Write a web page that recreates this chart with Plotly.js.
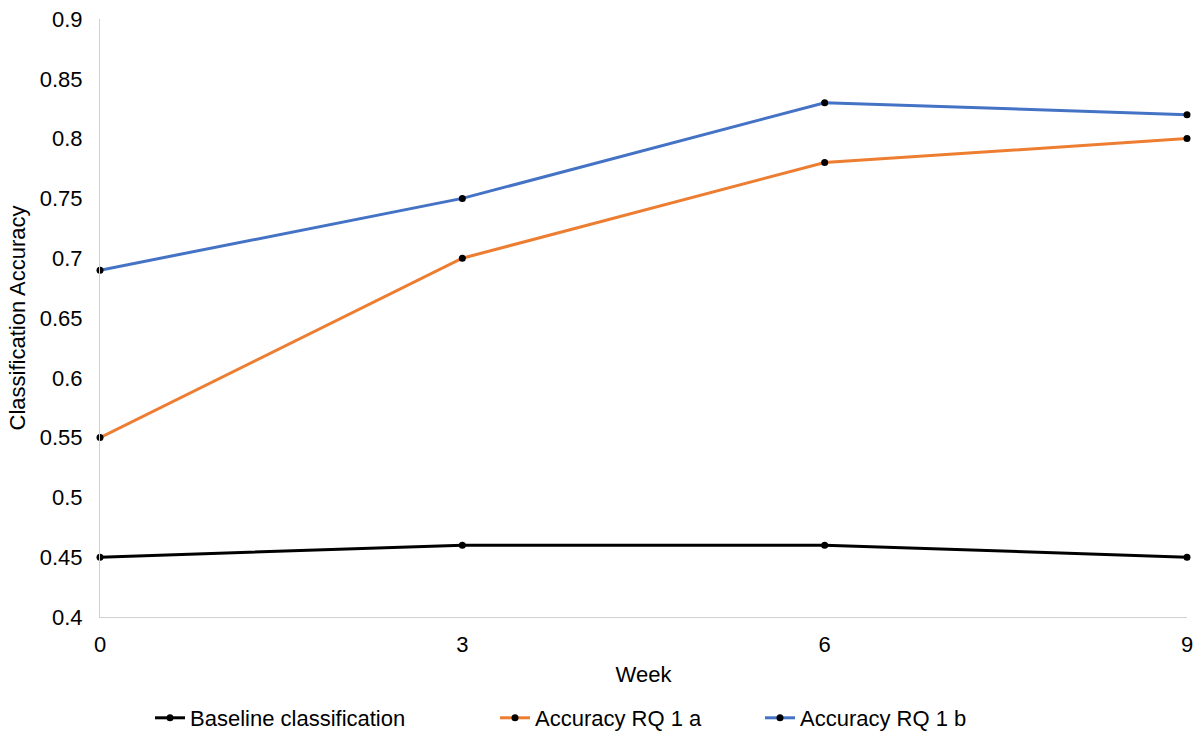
<!DOCTYPE html>
<html>
<head>
<meta charset="utf-8">
<script src="https://cdn.plot.ly/plotly-3.0.1.min.js"></script>
<style>html,body{margin:0;padding:0;background:#fff;}#chart{width:1201px;height:733px;}</style>
</head>
<body>
<div id="chart"></div>
<script>
const weeks = [0, 3, 6, 9];
const baseline = [0.45, 0.46, 0.46, 0.45];
const rq1a = [0.55, 0.70, 0.78, 0.80];
const rq1b = [0.69, 0.75, 0.83, 0.82];
const seriesNames = ["Baseline classification", "Accuracy RQ 1 a", "Accuracy RQ 1 b"];
const yTickVals = [0.4, 0.45, 0.5, 0.55, 0.6, 0.65, 0.7, 0.75, 0.8, 0.85, 0.9];
const yTickText = ["0.4", "0.45", "0.5", "0.55", "0.6", "0.65", "0.7", "0.75", "0.8", "0.85", "0.9"];
const xTickVals = [0, 3, 6, 9];

const colors = ["#000000", "#ED7D31", "#4472C4"];
const legendIds = ["legend", "legend2", "legend3"];
const data = [baseline, rq1a, rq1b].map((ys, i) => ({
  x: weeks, y: ys, name: seriesNames[i], type: "scatter", mode: "lines+markers",
  line: {color: colors[i], width: 3},
  marker: {color: "#000000", size: 7},
  cliponaxis: false,
  legend: legendIds[i]
}));

const font = {family: "Liberation Sans, Arial, sans-serif", size: 22, color: "#000"};
function leg(px) {
  return {
    orientation: "h", xref: "container", x: px / 1201, xanchor: "left",
    yref: "container", y: 15 / 733, yanchor: "middle",
    font: font, itemwidth: 30, bgcolor: "rgba(0,0,0,0)"
  };
}
const layout = {
  width: 1201, height: 733,
  margin: {l: 100, r: 14, t: 19, b: 116},
  paper_bgcolor: "#fff", plot_bgcolor: "#fff",
  font: font,
  showlegend: true,
  xaxis: {
    range: [0, 9], tickvals: xTickVals, ticktext: xTickVals.map(String),
    showgrid: false, zeroline: false, showline: true, linecolor: "#d0d0d0", linewidth: 1,
    ticks: "", tickfont: font, ticklabelstandoff: 8,
    title: {text: "Week", font: font, standoff: 10}
  },
  yaxis: {
    range: [0.4, 0.9], tickvals: yTickVals, ticktext: yTickText,
    showgrid: false, zeroline: false, showline: true, linecolor: "#d0d0d0", linewidth: 1,
    ticks: "", tickfont: font, ticklabelstandoff: 12,
    title: {text: "Classification Accuracy", font: font, standoff: 8}
  },
  legend: leg(150),
  legend2: leg(495),
  legend3: leg(760)
};
Plotly.newPlot("chart", data, layout, {displayModeBar: false, staticPlot: true});
</script>
</body>
</html>
